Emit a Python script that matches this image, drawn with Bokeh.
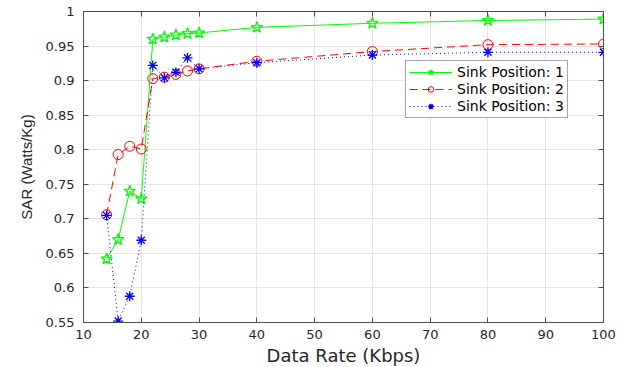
from bokeh.plotting import figure
from bokeh.models import (FixedTicker, LinearAxis, Range1d, Legend, LegendItem,
                          CustomLabelingPolicy)
from bokeh.embed import file_html
from bokeh.resources import INLINE

data_rate = [14, 16, 18, 20, 22, 24, 26, 28, 30, 40, 60, 80, 100]
sink1 = [0.642, 0.670, 0.740, 0.729, 0.960, 0.963, 0.966, 0.968, 0.969, 0.977, 0.983, 0.987, 0.989]
sink2 = [0.706, 0.793, 0.805, 0.801, 0.903, 0.905, 0.909, 0.914, 0.917, 0.928, 0.942, 0.952, 0.953]
sink3 = [0.705, 0.552, 0.588, 0.669, 0.922, 0.904, 0.912, 0.933, 0.917, 0.926, 0.937, 0.941, 0.941]

x_ticks = [10, 20, 30, 40, 50, 60, 70, 80, 90, 100]
y_ticks = [0.55, 0.6, 0.65, 0.7, 0.75, 0.8, 0.85, 0.9, 0.95, 1.0]
y_tick_labels = ["0.55", "0.6", "0.65", "0.7", "0.75", "0.8", "0.85", "0.9", "0.95", "1"]
labels = ["Sink Position: 1", "Sink Position: 2", "Sink Position: 3"]

FONT = "DejaVu Sans"
AX = "#4d4d4d"
TXT = "#262626"

p = figure(width=630, height=367, output_backend="svg", toolbar_location=None,
           x_range=Range1d(10, 100), y_range=Range1d(0.55, 1.0),
           frame_width=520, frame_height=311,
           min_border_left=83, min_border_right=27, min_border_top=10, min_border_bottom=46)
p.background_fill_color = "white"
p.border_fill_color = "white"
p.outline_line_color = AX
p.outline_line_width = 1

for ax in (p.xaxis[0], p.yaxis[0]):
    ax.axis_line_color = AX
    ax.major_tick_line_color = AX
    ax.major_tick_in = 5
    ax.major_tick_out = 0
    ax.minor_tick_line_color = None
    ax.major_label_text_font = FONT
    ax.major_label_text_font_size = "13px"
    ax.major_label_text_color = TXT
    ax.axis_label_text_font_style = "normal"
    ax.axis_label_text_color = TXT

p.xaxis.ticker = FixedTicker(ticks=x_ticks)
p.yaxis.ticker = FixedTicker(ticks=y_ticks)
p.yaxis.major_label_overrides = {round(v, 2): s for v, s in zip(y_ticks, y_tick_labels)}
p.xaxis.axis_label = "Data Rate (Kbps)"
p.yaxis.axis_label = "SAR (Watts/Kg)"
p.xaxis.axis_label_text_font = FONT
p.xaxis.axis_label_text_font_size = "18px"
p.yaxis.axis_label_text_font = "Liberation Sans"
p.yaxis.axis_label_text_font_size = "15px"
p.xaxis.major_label_standoff = 7
p.yaxis.major_label_standoff = 9
p.xaxis.axis_label_standoff = 3
p.yaxis.axis_label_standoff = 8

no_labels = CustomLabelingPolicy(code="return new Set()")
for loc, tk in (("above", x_ticks), ("right", y_ticks)):
    a = LinearAxis(ticker=FixedTicker(ticks=tk), major_label_policy=no_labels,
                   axis_line_color=AX, major_tick_line_color=AX, major_tick_in=5,
                   major_tick_out=0, minor_tick_line_color=None, major_label_standoff=0)
    p.add_layout(a, loc)

p.grid.grid_line_color = "#e6e6e6"
p.grid.grid_line_width = 1
p.xgrid.ticker = FixedTicker(ticks=x_ticks)
p.ygrid.ticker = FixedTicker(ticks=y_ticks)

l1 = p.line(data_rate, sink1, line_color="#00ff00", line_width=1)
m1 = p.scatter(data_rate, sink1, marker="star", size=12, line_color="#00ff00",
               fill_color=None, line_width=1.3)
l2 = p.line(data_rate, sink2, line_color="#ff0000", line_width=1, line_dash="8 5")
m2 = p.scatter(data_rate, sink2, marker="circle", size=10, line_color="#ff0000",
               fill_color=None, line_width=1)
l3 = p.line(data_rate, sink3, line_color="#0000ff", line_width=1, line_dash="1 3")
m3 = p.scatter(data_rate, sink3, marker="asterisk", size=10, line_color="#0000ff",
               line_width=1.3)

legend = Legend(items=[LegendItem(label=labels[0], renderers=[l1, m1]),
                       LegendItem(label=labels[1], renderers=[l2, m2]),
                       LegendItem(label=labels[2], renderers=[l3, m3])],
                location=(322, 204))
legend.label_text_font = FONT
legend.label_text_font_size = "14px"
legend.label_text_color = "black"
legend.glyph_width = 43
legend.glyph_height = 14
legend.label_height = 14
legend.label_width = 10
legend.spacing = 1
legend.padding = 3
legend.margin = 0
legend.label_standoff = 5
legend.border_line_color = AX
legend.border_line_width = 1
legend.background_fill_color = "white"
legend.background_fill_alpha = 1
p.add_layout(legend, "center")

open("out.html", "w").write(file_html(p, INLINE))
